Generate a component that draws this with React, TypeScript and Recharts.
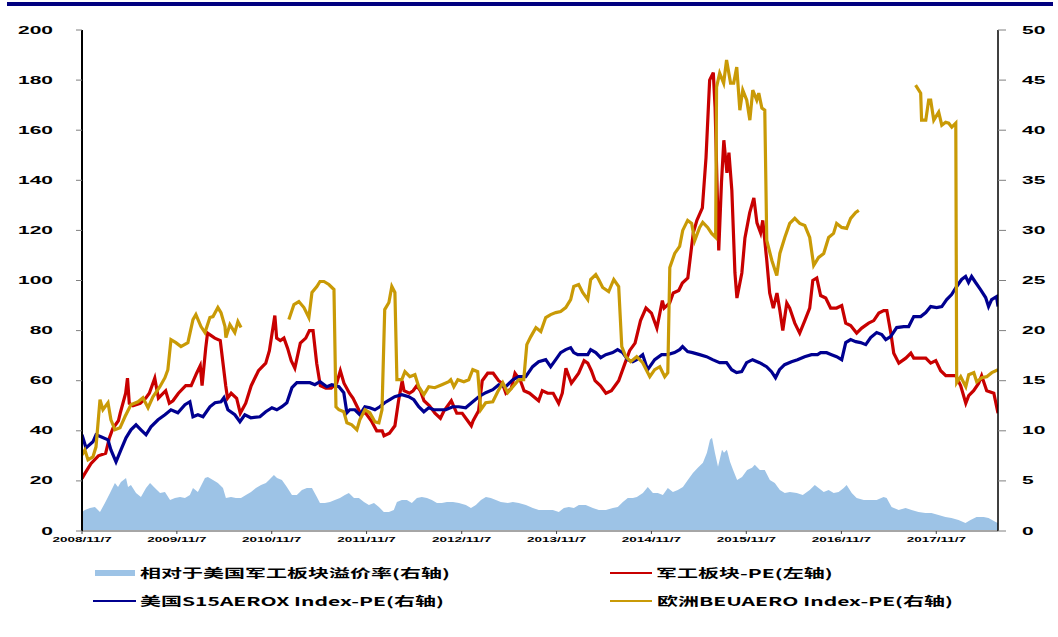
import React from 'react';
import { ComposedChart, Line, Area, XAxis, YAxis } from 'recharts';

// x 轴刻度（每年 11/7）
const tickDates = ['2008/11/7', '2009/11/7', '2010/11/7', '2011/11/7', '2012/11/7', '2013/11/7', '2014/11/7', '2015/11/7', '2016/11/7', '2017/11/7'];
const leftTicks = [0, 20, 40, 60, 80, 100, 120, 140, 160, 180, 200];
const rightTicks = [0, 5, 10, 15, 20, 25, 30, 35, 40, 45, 50];

// 每个点：[距 2008/11/7 的周数, 数值]
const premium: [number, number][] = [
  [0, 1.9], [1.6, 2.1], [4.4, 2.3], [7.1, 2.4], [9.9, 1.9], [12.6, 2.8], [15.4, 3.8], [18.1, 4.8], [19.8, 4.4], [21.4, 4.9],
  [24.2, 5.3], [25.3, 4.4], [26.9, 4.6], [29.7, 3.8], [32.4, 3.4], [35.2, 4.3], [37.4, 4.8], [40.1, 4.3], [42.9, 3.8], [45.6, 3.9],
  [48.4, 3.1], [51.1, 3.3], [53.9, 3.4], [56.6, 3.3], [59.3, 3.6], [61, 4.3], [63.7, 3.9], [67.6, 5.3], [69.2, 5.4], [72, 5.1],
  [74.7, 4.8], [77.5, 4.3], [79.1, 3.3], [81.9, 3.4], [84.6, 3.3], [87.4, 3.3], [90.1, 3.6], [92.9, 3.9], [95.6, 4.3], [98.4, 4.6],
  [101.1, 4.8], [102.8, 5.1], [105.5, 5.6], [107.2, 5.3], [109.9, 5.1], [112.6, 4.4], [115.4, 3.6], [118.1, 3.6], [120.9, 4.1], [123.6, 4.3],
  [126.4, 4.3], [129.1, 3.4], [130.8, 2.8], [133.5, 2.8], [136.3, 2.9], [139, 3.1], [141.8, 3.3], [144.5, 3.6], [146.7, 3.8], [149.5, 3.3],
  [152.2, 3.3], [155, 2.9], [157.7, 2.6], [160.5, 2.8], [163.2, 2.4], [165.9, 1.9], [168.7, 1.9], [171.4, 2.1], [173.1, 2.9], [175.8, 3.1],
  [178.6, 3.1], [181.3, 2.8], [184.1, 3.3], [186.8, 3.4], [189.6, 3.3], [192.3, 3.1], [195.1, 2.8], [197.8, 2.8], [200.6, 2.9], [203.9, 2.9],
  [207.2, 2.8], [211, 2.6], [213.8, 2.3], [216.5, 2.6], [219.3, 3.1], [222, 3.4], [224.7, 3.3], [227.5, 3.1], [230.2, 2.9], [234.1, 2.8],
  [236.8, 2.9], [240.1, 2.8], [244, 2.6], [247.8, 2.3], [251.1, 2.1], [255, 2.1], [258.8, 2.1], [262.1, 1.9], [264.9, 2.3], [267.6, 2.4],
  [270.4, 2.3], [273.1, 2.6], [276.9, 2.6], [280.8, 2.3], [284.1, 2.1], [288, 2.1], [291.8, 2.3], [294.5, 2.4], [297.3, 2.9], [300, 3.3],
  [302.8, 3.3], [305, 3.4], [308.3, 3.8], [311, 4.4], [313.8, 3.8], [316.5, 3.8], [319.3, 3.6], [322, 4.3], [324.8, 3.9], [327.5, 4.1],
  [330.3, 4.4], [333, 5.1], [335.8, 5.8], [338.5, 6.3], [341.3, 6.8], [343.5, 7.8], [345.2, 9.1], [346.3, 9.3], [347.9, 7.8], [349.6, 6.4],
  [351.8, 8.1], [352.9, 7.8], [354.5, 8.1], [356.2, 6.9], [357.9, 6.1], [360.1, 5.1], [362.8, 5.4], [365.6, 6.1], [368.3, 6.3], [369.8, 6.6],
  [372.6, 6.1], [375.3, 6.1], [378.1, 5.1], [380.8, 4.8], [383.6, 4.1], [386.3, 3.8], [389.1, 3.9], [392.9, 3.8], [396.2, 3.6], [400, 4.1],
  [402.8, 4.6], [404.9, 4.3], [407.7, 3.9], [410.4, 4.1], [413.2, 3.8], [415.9, 3.9], [418.7, 4.3], [420.3, 4.6], [423.1, 3.8], [425.8, 3.3],
  [429.7, 3.1], [433.5, 3.1], [436.8, 3.1], [440.6, 3.4], [442.3, 3.3], [445, 2.4], [448.9, 2.1], [452.7, 2.3], [456, 2.1], [459.8, 1.9],
  [463.6, 1.8], [466.9, 1.8], [470.8, 1.6], [474.6, 1.4], [477.9, 1.3], [481.8, 1.1], [485.6, 0.8], [488.4, 1.1], [491.7, 1.4], [495.6, 1.4],
  [498.3, 1.3], [502.2, 0.9], [503.5, 0.8],
];

// 军工板块-PE（左轴）
const milPE: [number, number][] = [
  [0, 21], [1.6, 23], [5, 27], [9, 30], [13, 31], [15, 37], [17, 41], [20, 44], [21, 47], [24, 55],
  [25, 61], [26, 51], [28, 50], [32, 51], [35, 53], [37, 55], [40, 61], [42, 53], [46, 56], [48, 51],
  [50, 52], [53, 55], [57, 58], [60, 58], [63, 63], [65, 66], [66, 58], [68, 73], [69, 79], [73, 77],
  [76, 76], [79, 58], [80, 53], [82, 55], [85, 53], [87, 47], [90, 51], [93, 58], [97, 64], [101, 67],
  [103, 72], [106, 86], [107, 77], [109, 76], [111, 77], [113, 73], [115, 68], [117, 65], [120, 75], [123, 77],
  [125, 80], [127, 80], [129, 67], [131, 58], [134, 57], [137, 57], [140, 59], [142, 64], [144, 59], [147, 55],
  [149, 53], [151, 50], [153, 47], [156, 47], [159, 44], [162, 40], [165, 40], [166, 38], [169, 39], [172, 42],
  [174, 52], [176, 60], [177, 56], [180, 55], [182, 56], [184, 58], [186, 56], [188, 52], [191, 50], [194, 47],
  [197, 45], [199, 48], [203, 52], [206, 47], [209, 47], [214, 42], [215, 44], [218, 48], [220, 60], [223, 63],
  [226, 63], [229, 60], [231, 59], [233, 55], [236, 57], [238, 63], [241, 60], [243, 56], [246, 55], [251, 52],
  [253, 56], [256, 55], [259, 55], [262, 51], [264, 55], [266, 65], [269, 59], [271, 61], [273, 63], [276, 68],
  [278, 67], [280, 64], [282, 60], [285, 58], [288, 55], [291, 56], [293, 58], [295, 60], [298, 66], [301, 72],
  [304, 75], [307, 84], [310, 89], [313, 87], [316, 81], [319, 92], [320, 89], [323, 91], [325, 95], [328, 96],
  [330, 99], [333, 101], [336, 119], [338, 124], [341, 129], [343, 149], [345, 180], [347, 183], [348, 169], [349, 140],
  [350, 112], [351.5, 139], [352.8, 156], [354.5, 143], [355.6, 151], [357.2, 136], [358.9, 103], [360, 93], [362.7, 103], [364.4, 117],
  [367, 127], [369.3, 133], [371, 123], [373, 119], [374.2, 124], [376.4, 108], [378, 95], [380, 89], [382, 95], [383.6, 88],
  [385.2, 80], [387.4, 91], [389, 89], [391.8, 83], [394.5, 79], [397.3, 84], [400, 89], [401.7, 100], [403.9, 101], [406, 94],
  [408.8, 93], [411.5, 89], [414.8, 89], [417.6, 90], [419.8, 83], [422.5, 82], [425.8, 79], [428.6, 81], [432.4, 83], [435.2, 84],
  [438, 87], [440.7, 88], [442.4, 88], [444.6, 79], [446.2, 71], [449, 67], [452.8, 69], [455.6, 71], [457.2, 69], [461, 69],
  [463.8, 69], [466.5, 67], [469.3, 68], [472, 64], [474.8, 62], [477.5, 62], [480.3, 62], [483, 58], [485.8, 51], [487.4, 54],
  [490.1, 56], [492.9, 59], [494.5, 62], [497.3, 56], [501.2, 55], [503.5, 47],
];

// 美国S15AEROX Index-PE（右轴）
const usPE: [number, number][] = [
  [0, 9.6], [2.2, 8.3], [6, 8.9], [7.7, 9.6], [10.4, 9.4], [14.3, 9.1], [15.9, 8.1], [18.7, 6.9], [21.4, 8.1], [24.2, 9.3],
  [26.9, 10.1], [29.7, 10.6], [32.4, 10.1], [35.2, 9.6], [37.9, 10.4], [41.8, 11.1], [45.6, 11.6], [48.9, 12.1], [52.7, 11.8], [56.6, 12.6],
  [59.3, 12.9], [61, 11.4], [63.7, 11.6], [66.5, 11.4], [70.3, 12.4], [73.1, 12.8], [76.4, 12.9], [78, 13.3], [80.2, 12.1], [84, 11.6],
  [86.8, 10.9], [89.5, 11.6], [92.8, 11.3], [97.8, 11.4], [101, 11.9], [104.4, 12.3], [107.1, 12.1], [109.9, 12.4], [112.6, 12.8], [115.4, 14.3],
  [118.1, 14.8], [122, 14.8], [125.3, 14.8], [128, 14.6], [130.8, 14.9], [134.6, 14.4], [137.3, 14.6], [141.2, 14.4], [143.9, 13.8], [145.6, 11.8],
  [147.2, 12.1], [150, 12.1], [152.7, 11.6], [155.5, 12.4], [158.2, 12.3], [161, 12.1], [163.7, 12.4], [166.4, 12.8], [169.2, 13.1], [171.9, 13.4],
  [175.8, 13.6], [179.6, 13.4], [182.4, 13.1], [185.1, 12.4], [187.9, 11.9], [190.6, 12.3], [193.4, 12.1], [196.1, 12.1], [200, 12.1], [203.8, 12.4],
  [207.1, 12.4], [210.9, 12.3], [214.8, 12.9], [218.1, 13.4], [221.9, 13.8], [225.8, 14.1], [229.1, 14.6], [232.9, 14.4], [236.8, 15.1], [240.1, 15.4],
  [243.9, 15.4], [247.7, 16.4], [251, 16.9], [254.9, 17.1], [257.6, 16.4], [260.4, 17.1], [263.1, 17.8], [265.9, 18.1], [268.6, 18.3], [270.3, 17.8],
  [272.5, 17.6], [275.2, 17.6], [278, 17.6], [279.6, 18.1], [282.4, 17.8], [285.1, 17.3], [287.9, 17.6], [291.7, 17.8], [294.4, 18.1], [297.2, 17.8],
  [299.9, 17.1], [302.7, 16.9], [304.9, 17.1], [308.2, 17.6], [310.9, 16.1], [314.8, 17.1], [318.6, 17.6], [321.9, 17.6], [325.7, 17.8], [328.5, 18.1],
  [330.1, 18.4], [332.9, 17.9], [335.6, 17.8], [339.5, 17.6], [343.3, 17.4], [346.6, 17.1], [350.5, 16.8], [354.3, 16.8], [357.1, 16.1], [359.8, 15.8],
  [362.6, 15.9], [365.3, 16.8], [368.6, 17.1], [372.4, 16.8], [376.3, 16.4], [379, 15.9], [381.2, 15.3], [383.4, 16.1], [386.2, 16.6], [390, 16.9],
  [393.3, 17.1], [397.2, 17.4], [401, 17.6], [404.3, 17.6], [406, 17.8], [409.3, 17.8], [412, 17.6], [414.8, 17.4], [417.6, 17.1], [419.8, 18.8],
  [422.5, 19.1], [425.3, 18.9], [428, 18.8], [430.8, 18.6], [433.5, 19.3], [436.8, 19.8], [439.6, 19.6], [441.8, 19.1], [444.5, 19.4], [447.8, 20.3],
  [451.7, 20.4], [454.4, 20.4], [457.2, 21.4], [461, 21.4], [463.8, 21.8], [466.5, 22.4], [469.8, 22.3], [472.6, 22.4], [475.3, 23.1], [478, 23.6],
  [480.8, 24.4], [483.5, 25.1], [485.7, 25.4], [487.3, 24.8], [489, 25.4], [491.2, 24.8], [493.9, 24.1], [496.7, 23.3], [498.3, 22.4], [500, 23.1],
  [502.7, 23.4], [503.5, 22.4],
];

// 欧洲BEUAERO Index-PE（右轴），null 为数据缺失
const euPE: [number, number | null][] = [
  [0, 7.6], [1.6, 8.1], [3.3, 7.1], [6, 7.4], [7.7, 8.4], [9.9, 13.1], [11.5, 12.1], [14.3, 12.8], [15.9, 11.1], [18.1, 10.1],
  [20.9, 10.3], [23.6, 11.4], [26.9, 12.6], [30.8, 12.9], [33.5, 13.3], [36.3, 12.3], [39, 13.4], [42.8, 14.4], [45.6, 15.3], [47.2, 16.1],
  [48.9, 19.1], [51.6, 18.8], [54.4, 18.4], [58.2, 18.8], [61, 21.1], [62.6, 21.6], [65.4, 20.4], [67.6, 19.8], [70.3, 21.3], [72, 21.4],
  [74.7, 22.3], [76.4, 21.8], [78.6, 20.4], [79.1, 19.3], [81.3, 20.6], [84, 19.8], [85.7, 20.9], [87.4, 20.3],
  [100, null],
  [113.7, 21.1], [116.5, 22.6], [119.2, 22.9], [122, 22.3], [124.7, 21.3], [126.4, 23.8], [129.1, 24.4], [130.8, 24.9], [133, 24.9], [135.7, 24.6],
  [138.5, 24.1], [139.6, 12.4], [141.2, 12.1], [143.9, 11.9], [145.6, 10.8], [148.3, 10.6], [151.1, 10.1], [152.7, 11.1], [155.5, 12.1], [158.2, 11.8],
  [161, 10.9], [163.2, 10.8], [164.9, 12.1], [166.4, 22.1], [168.7, 22.8], [170.3, 24.4], [172, 23.8], [173.1, 15.1], [175.8, 15.1], [177.5, 15.9],
  [180.2, 15.4], [183, 15.6], [185.1, 14.4], [187.9, 13.6], [190.6, 14.4], [193.9, 14.3], [197.8, 14.6], [201.6, 14.9], [202.7, 15.1], [204.4, 14.4],
  [206.6, 15.1], [209.9, 14.9], [212.6, 15.1], [214.8, 16.1], [217.5, 15.9], [219.2, 12.1], [221.9, 12.8], [225.8, 12.9], [228.5, 13.9], [231.3, 14.8],
  [234, 13.8], [236.8, 14.4], [240.1, 15.1], [242.8, 15.1], [244.5, 18.6], [246.7, 19.4], [249.5, 20.3], [252.2, 19.9], [254.9, 21.3], [257.6, 21.6],
  [260.4, 21.8], [263.1, 21.9], [265.9, 22.3], [268.6, 23.1], [270.3, 24.4], [273, 24.6], [275.2, 23.8], [278, 23.1], [279.6, 25.1], [282.4, 25.6],
  [284, 25.1], [286.2, 24.3], [289.5, 23.9], [292.3, 25.1], [295, 24.4], [296.7, 18.4], [298.9, 17.4], [301.6, 16.9], [304.9, 17.4], [308.2, 16.8],
  [312.1, 15.4], [314.8, 16.1], [317.6, 16.4], [320.3, 15.4], [322, 15.8], [323.1, 26.3], [325.8, 27.7], [328.5, 28.4], [330.2, 30], [332.9, 31],
  [335.1, 30.7], [336.8, 29], [339.5, 30.3], [341.2, 30.8], [343.9, 30.3], [346.1, 29.7], [348.3, 29.3], [348.8, 44.3], [350.5, 45.7], [352.7, 44.7],
  [354.3, 47], [356.5, 44.7], [358.2, 44.7], [359.9, 46.3], [361.6, 42], [363.2, 44], [365.4, 43], [367.1, 41], [368.7, 44], [370.9, 43],
  [372, 43.7], [373.7, 42.2], [375.3, 42], [376.4, 29], [379.2, 27], [381.9, 25.5], [383.6, 27.7], [386.3, 29.3], [389, 30.7], [391.8, 31.2],
  [394.5, 30.7], [397.3, 30.5], [400, 29.3], [402.2, 26.5], [404.9, 27.3], [407.7, 27.7], [410.4, 29.3], [413.1, 29.7], [414.8, 30.7], [417.6, 30.3],
  [420.3, 30.2], [422.5, 31.2], [425.3, 31.8], [427, 32],
  [440, null],
  [458.2, 44.5], [461, 43.7], [461.5, 41], [463.8, 41], [465.4, 43], [466.5, 43], [468.2, 41], [470.9, 41.8], [472.6, 40.5], [474.7, 40.8],
  [476.4, 40.7], [478.1, 40.3], [480.3, 40.7], [480.8, 14.8], [483, 15.4], [485.8, 14.4], [487.4, 15.6], [490.2, 15.8], [491.8, 14.9], [494.6, 15.3],
  [497.3, 15.4], [500.1, 15.8], [503.5, 16.1],
];

const toRows = (arr: [number, number | null][]) => arr.map(([w, v]) => ({ w, v }));

const base = Date.UTC(2008, 10, 7);
const toWeek = (s: string) => {
  const [y, m, d] = s.split('/').map(Number);
  return (Date.UTC(y, m - 1, d) - base) / (7 * 86400000);
};
const xTicks = tickDates.map(toWeek);
const END_WEEK = 503.5;

const FONT = '"Liberation Sans", Arial, sans-serif';
const CJK = '"Noto Sans CJK SC", "Liberation Sans", sans-serif';

const LeftTick = ({ x, y, payload }: any) => (
  <text transform={`translate(${x},${y}) scale(2.1,1)`} textAnchor="end" dy={3.5}
    fontSize={10} fontWeight={700} fontFamily={FONT} fill="#000">
    {payload.value}
  </text>
);

const RightTick = ({ x, y, payload }: any) => (
  <text transform={`translate(${x},${y}) scale(2.1,1)`} textAnchor="start" dy={3.5}
    fontSize={10} fontWeight={700} fontFamily={FONT} fill="#000">
    {payload.value}
  </text>
);

const BottomTick = ({ x, y, payload }: any) => {
  const i = xTicks.findIndex((t) => Math.abs(t - payload.value) < 0.01);
  return (
    <text transform={`translate(${x},${y}) scale(1.8,1)`} textAnchor="middle" dy={5.5}
      fontSize={7.5} fontWeight={700} fontFamily={FONT} fill="#000">
      {i >= 0 ? tickDates[i] : ''}
    </text>
  );
};

const legendText: React.CSSProperties = {
  position: 'absolute',
  fontFamily: CJK,
  fontSize: 12,
  fontWeight: 700,
  lineHeight: '14px',
  whiteSpace: 'nowrap',
  transform: 'scaleX(1.75)',
  transformOrigin: 'left center',
  color: '#000',
};

export default function App() {
  return (
    <div style={{ position: 'absolute', left: 0, top: 0, width: 1058, height: 637, background: '#fff', overflow: 'hidden' }}>
      {/* 顶部横线 */}
      <div style={{ position: 'absolute', left: 7, top: 2, width: 1046, height: 4, background: '#00007F' }} />

      <ComposedChart width={1058} height={637} margin={{ top: 30, right: 10, bottom: 86, left: 22 }}>
        <XAxis
          dataKey="w"
          type="number"
          domain={[0, END_WEEK]}
          allowDataOverflow
          ticks={xTicks}
          interval={0}
          tick={<BottomTick />}
          tickSize={3}
          tickMargin={2}
          height={20}
          axisLine={{ stroke: '#A6A6A6', strokeWidth: 2 }}
          tickLine={{ stroke: '#404040' }}
        />
        <YAxis
          yAxisId="L"
          orientation="left"
          domain={[0, 200]}
          ticks={leftTicks}
          interval={0}
          width={60}
          tick={<LeftTick />}
          tickSize={6}
          tickMargin={23}
          axisLine={{ stroke: '#000', strokeWidth: 2 }}
          tickLine={{ stroke: '#808080' }}
        />
        <YAxis
          yAxisId="R"
          orientation="right"
          domain={[0, 50]}
          ticks={rightTicks}
          interval={0}
          width={50}
          tick={<RightTick />}
          tickSize={8}
          tickMargin={16}
          axisLine={{ stroke: '#000', strokeWidth: 1.5 }}
          tickLine={{ stroke: '#808080' }}
        />
        <Area
          yAxisId="R"
          data={toRows(premium)}
          dataKey="v"
          type="linear"
          fill="#9DC3E6"
          fillOpacity={1}
          stroke="none"
          isAnimationActive={false}
        />
        <Line yAxisId="L" data={toRows(milPE)} dataKey="v" type="linear" stroke="#C80000" strokeWidth={3.2} dot={false} isAnimationActive={false} />
        <Line yAxisId="R" data={toRows(usPE)} dataKey="v" type="linear" stroke="#000090" strokeWidth={3.2} dot={false} isAnimationActive={false} />
        <Line yAxisId="R" data={toRows(euPE)} dataKey="v" type="linear" stroke="#C99A06" strokeWidth={3.2} dot={false} connectNulls={false} isAnimationActive={false} />
      </ComposedChart>

      {/* 图例 */}
      <div style={{ position: 'absolute', left: 95, top: 570, width: 40, height: 6, background: '#9DC3E6' }} />
      <div style={{ ...legendText, left: 140, top: 566 }}>相对于美国军工板块溢价率(右轴)</div>
      <div style={{ position: 'absolute', left: 610, top: 572, width: 42, height: 2, background: '#C80000' }} />
      <div style={{ ...legendText, left: 656, top: 566 }}>军工板块-PE(左轴)</div>
      <div style={{ position: 'absolute', left: 93, top: 600, width: 43, height: 2, background: '#000090' }} />
      <div style={{ ...legendText, left: 140, top: 594 }}>美国S15AEROX Index-PE(右轴)</div>
      <div style={{ position: 'absolute', left: 610, top: 600, width: 42, height: 2, background: '#C99A06' }} />
      <div style={{ ...legendText, left: 657, top: 594 }}>欧洲BEUAERO Index-PE(右轴)</div>
    </div>
  );
}
